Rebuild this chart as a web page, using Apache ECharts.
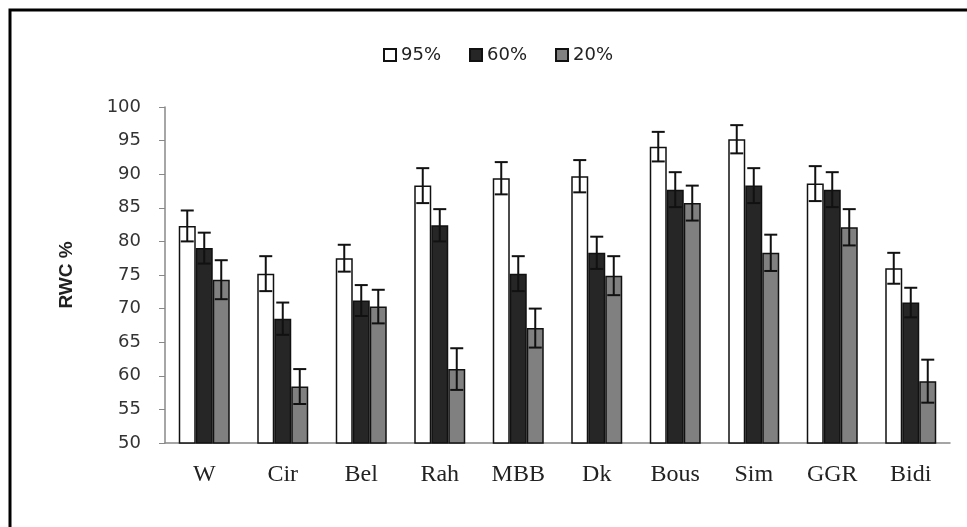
<!DOCTYPE html>
<html>
<head>
<meta charset="utf-8">
<script src="https://cdn.jsdelivr.net/npm/echarts@6/dist/echarts.min.js"></script>
<style>
html,body{margin:0;padding:0;background:#fff;}
#chart{width:967px;height:527px;}
</style>
</head>
<body>
<div id="chart"></div>
<script>
const categories = ['W', 'Cir', 'Bel', 'Rah', 'MBB', 'Dk', 'Bous', 'Sim', 'GGR', 'Bidi'];
const seriesNames = ['95%', '60%', '20%'];
const values95 = [82.3, 75.2, 77.5, 88.3, 89.4, 89.7, 94.1, 95.2, 88.6, 76.0];
const errors95 = [2.3, 2.6, 2.0, 2.6, 2.4, 2.4, 2.2, 2.1, 2.6, 2.3];
const values60 = [79.0, 68.5, 71.2, 82.4, 75.2, 78.3, 87.7, 88.3, 87.7, 70.9];
const errors60 = [2.3, 2.4, 2.3, 2.4, 2.6, 2.4, 2.6, 2.6, 2.6, 2.2];
const values20 = [74.3, 58.4, 70.3, 61.0, 67.1, 74.9, 85.7, 78.3, 82.1, 59.2];
const errors20 = [2.9, 2.6, 2.5, 3.1, 2.9, 2.9, 2.6, 2.7, 2.7, 3.2];
const yTicks = [50, 55, 60, 65, 70, 75, 80, 85, 90, 95, 100];

const BAR_W = 17;
const allValues = [values95, values60, values20];
const allErrors = [errors95, errors60, errors20];
const fills = ['#ffffff', '#262626', '#808080'];

const barSeries = seriesNames.map((name, k) => ({
  name: name,
  type: 'bar',
  data: allValues[k],
  barWidth: BAR_W,
  barGap: '0%',
  itemStyle: { color: fills[k], borderColor: '#111', borderWidth: 1.5 },
  z: 2
}));

const errData = [];
allValues.forEach((vals, k) => {
  vals.forEach((v, i) => errData.push([i, v, allErrors[k][i], k]));
});

const errSeries = {
  type: 'custom',
  name: 'err',
  data: errData,
  encode: { x: 0, y: 1 },
  z: 5,
  silent: true,
  renderItem: function (params, api) {
    const i = api.value(0), v = api.value(1), e = api.value(2), k = api.value(3);
    const off = (k - 1) * BAR_W;
    const hi = api.coord([i, v + e]);
    const lo = api.coord([i, v - e]);
    const x = hi[0] + off;
    const hw = 6.5;
    const st = { stroke: '#111', lineWidth: 2 };
    return {
      type: 'group',
      children: [
        { type: 'line', shape: { x1: x, y1: hi[1], x2: x, y2: lo[1] }, style: st },
        { type: 'line', shape: { x1: x - hw, y1: hi[1], x2: x + hw, y2: hi[1] }, style: st },
        { type: 'line', shape: { x1: x - hw, y1: lo[1], x2: x + hw, y2: lo[1] }, style: st }
      ]
    };
  }
};

const chart = echarts.init(document.getElementById('chart'), null, { renderer: 'canvas' });
chart.setOption({
  animation: false,
  backgroundColor: '#fff',
  graphic: [{
    type: 'rect',
    shape: { x: 10, y: 10, width: 1000, height: 600 },
    style: { fill: 'none', stroke: '#000', lineWidth: 3 },
    z: 0, silent: true
  }],
  legend: {
    data: seriesNames,
    left: 378,
    top: 41,
    icon: 'rect',
    itemWidth: 12,
    itemHeight: 12,
    itemGap: 28,
    textStyle: { fontFamily: 'DejaVu Sans', fontSize: 18, color: '#222' }
  },
  grid: { left: 165, right: 17, top: 107, bottom: 84 },
  xAxis: {
    type: 'category',
    data: categories,
    axisLine: { lineStyle: { color: '#888', width: 1.5 } },
    axisTick: { show: false },
    axisLabel: {
      fontFamily: 'Liberation Serif',
      fontSize: 24,
      color: '#222',
      margin: 20
    }
  },
  yAxis: {
    type: 'value',
    min: 50,
    max: 100,
    interval: 5,
    name: 'RWC %',
    nameLocation: 'middle',
    nameRotate: 90,
    nameGap: 89,
    nameTextStyle: { fontFamily: 'Liberation Sans', fontWeight: 'bold', fontSize: 19, color: '#222' },
    axisLine: { show: true, lineStyle: { color: '#888', width: 1.5 } },
    axisTick: { show: true, length: 6, lineStyle: { color: '#888' } },
    splitLine: { show: false },
    axisLabel: {
      fontFamily: 'DejaVu Sans',
      fontSize: 18,
      color: '#333',
      margin: 24,
      formatter: function (v) { return yTicks.indexOf(v) >= 0 ? String(v) : ''; }
    }
  },
  series: barSeries.concat([errSeries])
});
</script>
</body>
</html>
